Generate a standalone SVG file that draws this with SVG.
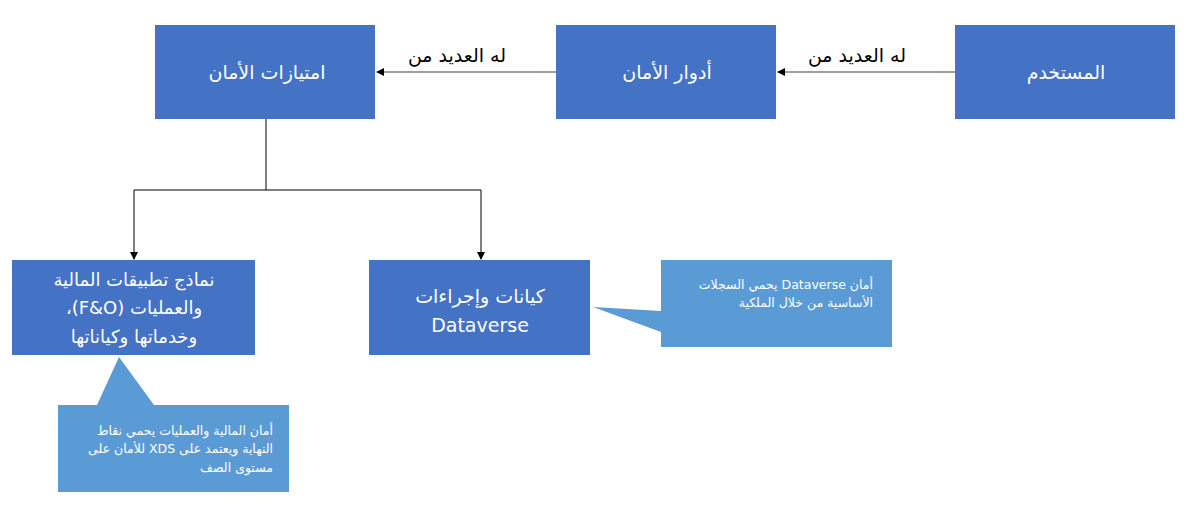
<svg xmlns="http://www.w3.org/2000/svg" width="1186" height="512" viewBox="0 0 1186 512">
<defs>
<style>
.box{fill:#4472C4;}
.call{fill:#5B9BD5;}
.bt{font-family:"DejaVu Sans","Noto Sans",sans-serif;font-size:19px;fill:#fff;text-anchor:middle;direction:rtl;}
.bs{font-size:18px;}
.ct{font-family:"DejaVu Sans","Noto Sans",sans-serif;font-size:12.5px;fill:#fff;direction:rtl;text-anchor:start;}
.lt{font-family:"DejaVu Sans","Noto Sans",sans-serif;font-size:19px;fill:#000;text-anchor:middle;direction:rtl;}
.ln{fill:none;stroke:#000;stroke-width:1;}
.ln2{fill:none;stroke:#7f7f7f;stroke-width:1.5;}
</style>
<marker id="ah" markerWidth="8" markerHeight="8" refX="7" refY="4" orient="auto" markerUnits="userSpaceOnUse">
<path d="M0,0 L8,4 L0,8 Z" fill="#000"/>
</marker>
</defs>
<rect width="1186" height="512" fill="#fff"/>
<g id="connectors">
<line class="ln2" x1="955" y1="72" x2="778" y2="72" marker-end="url(#ah)"/>
<text class="lt" x="857" y="62">له العديد من</text>
<line class="ln2" x1="556" y1="72" x2="377" y2="72" marker-end="url(#ah)"/>
<text class="lt" x="457" y="62">له العديد من</text>
<polyline class="ln" points="266,119 266,190 134,190 134,259" marker-end="url(#ah)"/>
<polyline class="ln" points="266,190 481,190 481,259" marker-end="url(#ah)"/>
</g>
<g id="user">
<rect class="box" x="955" y="25" width="220" height="94"/>
<text class="bt" x="1066" y="79">المستخدم</text>
</g>
<g id="roles">
<rect class="box" x="556" y="25" width="220" height="94"/>
<text class="bt" x="667" y="79">أدوار الأمان</text>
</g>
<g id="privileges">
<rect class="box" x="155" y="25" width="220" height="94"/>
<text class="bt" x="267" y="79">امتيازات الأمان</text>
</g>
<g id="fo">
<rect class="box" x="12" y="260" width="243" height="95"/>
<text class="bt bs" x="134" y="286">نماذج تطبيقات المالية</text>
<text class="bt bs" x="134" y="314">والعمليات (F&amp;O)،</text>
<text class="bt bs" x="134" y="343">وخدماتها وكياناتها</text>
</g>
<g id="dataverse">
<rect class="box" x="369" y="260" width="221" height="95"/>
<text class="bt" x="480" y="303">كيانات وإجراءات</text>
<text class="bt" x="480" y="332">Dataverse</text>
</g>
<g id="callout-dataverse">
<path class="call" d="M661,260 H892 V347 H661 V332 L593,307 L661,311 Z"/>
<text class="ct" x="873" y="289">أمان Dataverse يحمي السجلات</text>
<text class="ct" x="873" y="307">الأساسية من خلال الملكية</text>
</g>
<g id="callout-fo">
<path class="call" d="M58,405 H97 L119,357 L154,405 H289 V492 H58 Z"/>
<text class="ct" x="273" y="435">أمان المالية والعمليات يحمي نقاط</text>
<text class="ct" x="273" y="453">النهاية ويعتمد على XDS للأمان على</text>
<text class="ct" x="273" y="472">مستوى الصف</text>
</g>
</svg>
